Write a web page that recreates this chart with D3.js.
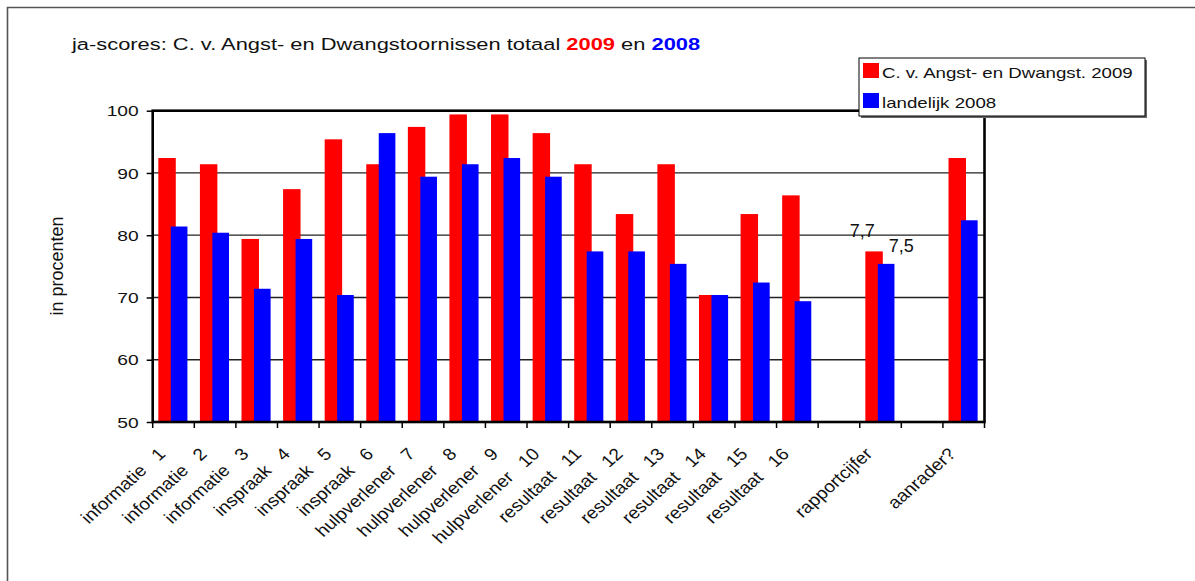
<!DOCTYPE html>
<html>
<head>
<meta charset="utf-8">
<script src="https://cdn.jsdelivr.net/npm/d3@7"></script>
<style>
  html, body { margin: 0; padding: 0; background: #fff; }
  svg text { font-family: "Liberation Sans", Arial, sans-serif; fill: #111; }
</style>
</head>
<body>
<svg id="chart" width="1195" height="581"></svg>
<script>
// ---- data ----
const categories = [
  "informatie   1", "informatie   2", "informatie   3",
  "inspraak   4", "inspraak   5", "inspraak   6",
  "hulpverlener   7", "hulpverlener   8", "hulpverlener   9", "hulpverlener   10",
  "resultaat   11", "resultaat   12", "resultaat   13", "resultaat   14", "resultaat   15", "resultaat   16",
  "", "rapportcijfer", "", "aanrader?"
];
const values2009 = [92.4, 91.4, 79.4, 87.4, 95.4, 91.4, 97.4, 99.4, 99.4, 96.4,
                    91.4, 83.4, 91.4, 70.4, 83.4, 86.4, null, 77.4, null, 92.4];
const values2008 = [81.4, 80.4, 71.4, 79.4, 70.4, 96.4, 89.4, 91.4, 92.4, 89.4,
                    77.4, 77.4, 75.4, 70.4, 72.4, 69.4, null, 75.4, null, 82.4];
const dataLabels2009 = [null, null, null, null, null, null, null, null, null, null,
                        null, null, null, null, null, null, null, "7,7", null, null];
const dataLabels2008 = [null, null, null, null, null, null, null, null, null, null,
                        null, null, null, null, null, null, null, "7,5", null, null];
const yTicks = [50, 60, 70, 80, 90, 100];
const seriesNames = ["C. v. Angst- en Dwangst. 2009", "landelijk 2008"];
const seriesColors = ["#ff0000", "#0000ff"];

(function () {
// ---- layout ----
const svg = d3.select("#chart");
const pL = 152.7, pR = 984.5, pT = 110.7, pB = 422;
const SX = 1.28; // horizontal stretch of horizontal text in the reference

svg.append("rect").attr("width", 1195).attr("height", 581).attr("fill", "#fff");

// outer frame
svg.append("path")
  .attr("d", "M7.5,581 L7.5,7.5 L1195,7.5")
  .attr("fill", "none").attr("stroke", "#555").attr("stroke-width", 1.6);

const idx = d3.range(categories.length);
const x = d3.scaleBand().domain(idx).range([pL, pR]).paddingInner(0).paddingOuter(0);
const y = d3.scaleLinear().domain([50, 100]).range([pB, pT]);
const bw = x.bandwidth();

// gridlines
svg.append("g").selectAll("line").data(yTicks.filter(t => t > 50 && t < 100)).join("line")
  .attr("x1", pL).attr("x2", pR)
  .attr("y1", d => y(d)).attr("y2", d => y(d))
  .attr("stroke", "#222").attr("stroke-width", 1.3);

// bars
const bars = svg.append("g");
bars.selectAll("rect.r").data(idx.filter(i => values2009[i] != null)).join("rect")
  .attr("class", "r")
  .attr("x", i => x(i) + bw * 0.135).attr("width", bw * 0.42)
  .attr("y", i => y(values2009[i])).attr("height", i => y(50) - y(values2009[i]))
  .attr("fill", seriesColors[0]);
bars.selectAll("rect.b").data(idx.filter(i => values2008[i] != null)).join("rect")
  .attr("class", "b")
  .attr("x", i => x(i) + bw * 0.435).attr("width", bw * 0.40)
  .attr("y", i => y(values2008[i])).attr("height", i => y(50) - y(values2008[i]))
  .attr("fill", seriesColors[1]);

// plot border
svg.append("rect")
  .attr("x", pL).attr("y", pT).attr("width", pR - pL).attr("height", pB - pT)
  .attr("fill", "none").attr("stroke", "#000").attr("stroke-width", 2.6);

// y axis
const yAxis = svg.append("g").attr("transform", `translate(${pL},0)`)
  .call(d3.axisLeft(y).tickValues(yTicks).tickSize(6).tickFormat(d3.format("d")));
yAxis.select(".domain").remove();
yAxis.selectAll(".tick line").attr("stroke", "#000").attr("stroke-width", 1.5);
yAxis.selectAll(".tick text")
  .attr("x", 0).attr("dy", null).attr("dominant-baseline", "central")
  .attr("font-size", 15).attr("text-anchor", "end")
  .attr("transform", `translate(-14,0) scale(${SX},1)`);

// x axis ticks at slot boundaries
const xb = svg.append("g");
xb.selectAll("line").data(d3.range(categories.length + 1)).join("line")
  .attr("x1", i => pL + i * bw).attr("x2", i => pL + i * bw)
  .attr("y1", pB).attr("y2", pB + 6)
  .attr("stroke", "#000").attr("stroke-width", 1.5);

// x labels
svg.append("g").selectAll("text").data(idx.filter(i => categories[i] !== "")).join("text")
  .attr("transform", i => `translate(${x(i) + bw / 2 - 7},455) scale(1.12,1) rotate(-45)`)
  .attr("text-anchor", "end")
  .attr("font-size", 17)
  .style("white-space", "pre")
  .attr("xml:space", "preserve")
  .text(i => categories[i]);

// data labels
svg.append("g").selectAll("text").data(idx.filter(i => dataLabels2009[i])).join("text")
  .attr("x", i => x(i) + bw * 0.06).attr("y", i => y(values2009[i]) - 14)
  .attr("text-anchor", "middle").attr("font-size", 18)
  .text(i => dataLabels2009[i]);
svg.append("g").selectAll("text").data(idx.filter(i => dataLabels2008[i])).join("text")
  .attr("x", i => x(i) + bw * 1.0).attr("y", i => y(values2008[i]) - 12)
  .attr("text-anchor", "middle").attr("font-size", 18)
  .text(i => dataLabels2008[i]);

// y axis title
svg.append("text")
  .attr("transform", "translate(63,266) rotate(-90)")
  .attr("text-anchor", "middle").attr("font-size", 18)
  .text("in procenten");

// title
const title = svg.append("text")
  .attr("transform", `translate(72,50) scale(${SX},1)`)
  .attr("font-size", 17.1);
title.append("tspan").text("ja-scores: C. v. Angst- en Dwangstoornissen totaal ");
title.append("tspan").style("fill", seriesColors[0]).attr("font-weight", "bold").text("2009");
title.append("tspan").text(" en ");
title.append("tspan").style("fill", seriesColors[1]).attr("font-weight", "bold").text("2008");

// legend
const lg = svg.append("g");
lg.append("rect").attr("x", 861).attr("y", 60).attr("width", 286).attr("height", 58).attr("fill", "#666");
lg.append("rect").attr("x", 859).attr("y", 58).attr("width", 286).attr("height", 58)
  .attr("fill", "#fff").attr("stroke", "#000").attr("stroke-width", 1);
seriesNames.forEach((name, k) => {
  const yy = 63 + k * 30;
  lg.append("rect").attr("x", 863).attr("y", yy).attr("width", 16).attr("height", 15).attr("fill", seriesColors[k]);
  lg.append("text")
    .attr("transform", `translate(882,${yy + 15}) scale(${SX},1)`)
    .attr("font-size", 14.6).text(name);
});
})();
</script>
</body>
</html>
